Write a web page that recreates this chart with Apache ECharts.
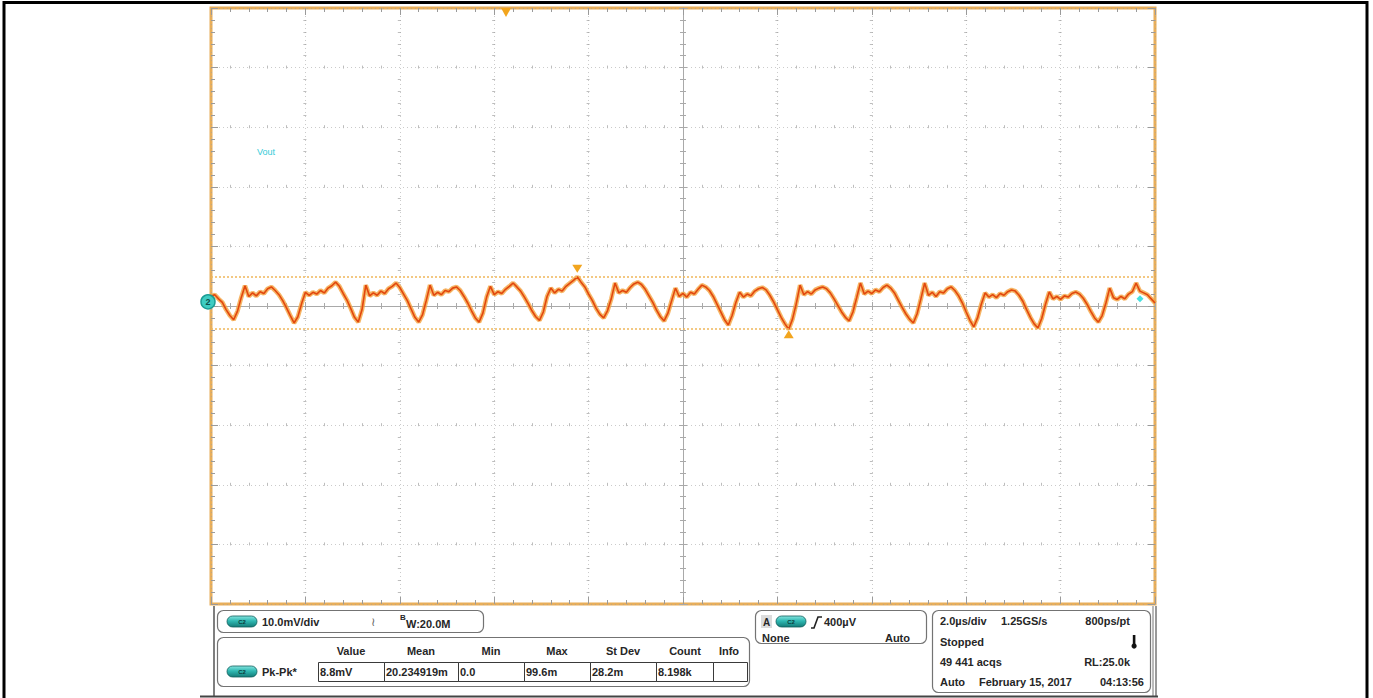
<!DOCTYPE html>
<html>
<head>
<meta charset="utf-8">
<title>Vout ripple</title>
<script src="https://cdn.jsdelivr.net/npm/echarts@6/dist/echarts.min.js"></script>
<style>
  html, body { margin: 0; padding: 0; background: #ffffff; }
  #chart { width: 1373px; height: 698px; }
</style>
</head>
<body>
<div id="chart"></div>
<script>
// ---- Acquisition: 2.0 µs/div over 10 divisions, 10 mV/div over 10 divisions ----
const timeRangeUs = [-10, 10];
const timeDivUs = 2;
const voltRangeMv = [-50, 50];
const voltDivMv = 10;

// Output ripple trace, one value (mV) every 0.08 µs starting at -10 µs
const startTimeUs = -10;
const sampleStepUs = 0.08;
const voutMv = [
  1.6, 1.9, 1.2, 0.6, -0.6, -1.6, -2.3, -0.9, 1.4, 3.4,
  1.6, 2.2, 1.7, 2.4, 2.1, 2.9, 3.2, 2.6, 1.9, 0.9,
  -0.3, -1.6, -2.85, -1.8, 0.4, 2.3, 1.8, 2.3, 2.0, 2.6,
  2.2, 3.0, 3.4, 4.0, 3.3, 2.1, 1.0, -0.4, -1.9, -2.7,
  -0.6, 3.5, 1.7, 2.2, 1.8, 2.5, 2.1, 2.9, 3.3, 3.85,
  3.1, 2.0, 0.9, -0.5, -1.9, -2.7, -1.5, 0.9, 3.5, 1.8,
  2.3, 1.9, 2.6, 2.4, 3.0, 3.2, 2.6, 1.6, 0.5, -0.8,
  -2.0, -2.7, -1.2, 1.5, 3.3, 1.9, 2.4, 2.1, 2.8, 3.3,
  3.85, 3.2, 2.5, 1.5, 0.4, -0.8, -1.8, -2.4, -1.0, 1.6,
  3.0, 2.2, 2.8, 2.5, 3.3, 3.8, 4.3, 4.9, 4.0, 3.2,
  2.0, 0.9, -0.4, -1.4, -2.0, -0.8, 1.2, 3.85, 2.2, 2.6,
  2.3, 3.1, 3.7, 4.0, 3.6, 2.8, 1.7, 0.6, -0.7, -1.8,
  -2.5, -1.2, 0.9, 3.0, 1.6, 2.1, 1.5, 2.3, 2.0, 2.8,
  3.5, 3.2, 2.6, 1.6, 0.3, -1.0, -2.3, -3.2, -1.6, 0.6,
  2.3, 1.5, 2.0, 1.7, 2.5, 2.9, 3.1, 2.7, 1.8, 0.7,
  -0.6, -1.9, -3.0, -3.9, -2.2, 0.4, 3.5, 1.9, 2.4, 2.0,
  2.7, 3.0, 3.2, 2.9, 2.2, 1.2, 0.1, -1.0, -1.9, -2.5,
  -1.0, 1.4, 3.85, 2.0, 2.5, 2.1, 2.7, 2.4, 3.1, 3.5,
  3.0, 2.2, 1.0, -0.2, -1.3, -2.2, -2.85, -1.3, 1.2, 3.85,
  1.8, 2.3, 1.6, 2.4, 2.2, 2.9, 3.2, 2.6, 1.7, 0.5,
  -1.0, -2.4, -3.5, -2.0, 0.3, 2.2, 1.5, 1.9, 1.4, 2.1,
  1.8, 2.4, 2.7, 2.5, 1.8, 0.8, -0.6, -1.9, -3.0, -3.7,
  -2.1, 0.3, 2.35, 1.2, 1.6, 1.1, 1.7, 1.5, 2.1, 2.35,
  2.0, 1.3, 0.3, -0.9, -2.0, -2.7, -1.6, 0.5, 3.0, 1.4,
  1.1, 1.6, 1.2, 2.0, 2.4, 3.85, 2.5, 2.2, 1.9, 1.2,
  0.5
];

// Indicators on the graticule
const triggerTimeUs = -3.75;   // horizontal trigger position
const channelRefMv = 0.7;      // channel 2 reference level
const traceEndMv = 1.2;        // right-edge level marker
const channelName = 'Vout';

// Readout panel texts
const verticalScale = '10.0mV/div';
const bandwidthLimit = ['B', 'W:20.0M'];
const measureHeaders = ['Value', 'Mean', 'Min', 'Max', 'St Dev', 'Count', 'Info'];
const measureName = 'Pk-Pk*';
const measureValues = ['8.8mV', '20.234919m', '0.0', '99.6m', '28.2m', '8.198k', ''];
const triggerReadout = ['A', '400µV', 'None', 'Auto'];
const timebaseReadout = [
  ['2.0µs/div', '1.25GS/s', '800ps/pt'],
  ['Stopped'],
  ['49 441 acqs', 'RL:25.0k'],
  ['Auto', 'February 15, 2017', '04:13:56']
];

const traceData = voutMv.map((v, i) => [startTimeUs + i * sampleStepUs, v]);

// ---- styling ----
const FRAME_ORANGE = '#E8AE5A';
const TICK_GREY = '#9a9a9a';
const GRID_GREY = 'rgba(160,160,160,0.55)';
const CROSS_GREY = '#bdbdbd';
const CENTER_GREY = '#a9a9a9';
const FONT = '"Liberation Sans", Arial, sans-serif';

const edgeAxisCommon = {
  type: 'value',
  axisLine: { show: false, onZero: false },
  axisLabel: { show: false },
  axisTick: { show: true, inside: true, length: 7, lineStyle: { color: TICK_GREY, width: 1 } },
  minorTick: { show: true, splitNumber: 5, length: 4, lineStyle: { color: TICK_GREY, width: 1 } },
  splitLine: { show: false }
};

function xEdge(position, withGrid) {
  return Object.assign({}, edgeAxisCommon, {
    position, min: timeRangeUs[0], max: timeRangeUs[1], interval: timeDivUs,
    splitLine: { show: withGrid, lineStyle: { color: GRID_GREY, width: 1, type: [1, 3] } },
    minorSplitLine: { show: withGrid, lineStyle: { color: CROSS_GREY, width: 1, type: [3, 56.6], dashOffset: 1.5 } }
  });
}
function yEdge(position, withGrid) {
  return Object.assign({}, edgeAxisCommon, {
    position, min: voltRangeMv[0], max: voltRangeMv[1], interval: voltDivMv,
    splitLine: { show: withGrid, lineStyle: { color: GRID_GREY, width: 1, type: [1, 3] } },
    minorSplitLine: { show: withGrid, lineStyle: { color: CROSS_GREY, width: 1, type: [3, 91.4], dashOffset: 1.5 } }
  });
}
// centre cross-hair axes: solid line with ticks on both sides
function xCentre(inside) {
  return {
    type: 'value', position: 'bottom', min: timeRangeUs[0], max: timeRangeUs[1], interval: timeDivUs,
    axisLine: { show: true, onZero: true, onZeroAxisIndex: 0, lineStyle: { color: CENTER_GREY, width: 1 } },
    axisLabel: { show: false },
    axisTick: { show: true, inside, length: 4, lineStyle: { color: CENTER_GREY } },
    minorTick: { show: true, splitNumber: 5, length: 3, lineStyle: { color: CENTER_GREY } },
    splitLine: { show: false }
  };
}
function yCentre(inside) {
  return {
    type: 'value', position: 'left', min: voltRangeMv[0], max: voltRangeMv[1], interval: voltDivMv,
    axisLine: { show: true, onZero: true, onZeroAxisIndex: 0, lineStyle: { color: CENTER_GREY, width: 1 } },
    axisLabel: { show: false },
    axisTick: { show: true, inside, length: 4, lineStyle: { color: CENTER_GREY } },
    minorTick: { show: true, splitNumber: 5, length: 3, lineStyle: { color: CENTER_GREY } },
    splitLine: { show: false }
  };
}

// ---- readout panel graphics ----
function text(x, y, s, o) {
  o = o || {};
  return {
    type: 'text', x, y, z: 100, silent: true,
    style: {
      text: s, fill: o.color || '#262626', fontFamily: FONT,
      fontSize: o.size || 11, fontWeight: o.weight || 'bold',
      align: o.align || 'left', verticalAlign: 'middle'
    }
  };
}
function box(x, y, w, h) {
  return { type: 'rect', z: 99, silent: true, shape: { x, y, width: w, height: h, r: 6 },
    style: { fill: 'none', stroke: '#737373', lineWidth: 1.2 } };
}
function pill(x, y) {
  return [
    { type: 'rect', z: 100, silent: true, shape: { x, y, width: 30, height: 11, r: 5.5 },
      style: {
        fill: new echarts.graphic.LinearGradient(0, 0, 0, 1, [
          { offset: 0, color: '#86e4df' }, { offset: 0.45, color: '#2fb8b2' }, { offset: 1, color: '#137b77' }
        ]),
        stroke: '#0f5d5a', lineWidth: 0.8
      } },
    text(x + 15, y + 5.8, 'C2', { size: 6, color: '#0b3b3a', align: 'center' })
  ];
}

const graphics = [];
// outer frame
graphics.push({ type: 'rect', z: 100, silent: true, shape: { x: 4, y: 2.5, width: 1363, height: 720 },
  style: { fill: 'none', stroke: '#000', lineWidth: 3 } });
// channel label
graphics.push(text(257, 152, channelName, { size: 9, weight: 'normal', color: '#35cbd8' }));
// panel frame
graphics.push({ type: 'line', z: 99, silent: true, shape: { x1: 214, y1: 606, x2: 214, y2: 696 }, style: { stroke: '#555', lineWidth: 1.5 } });
graphics.push({ type: 'line', z: 99, silent: true, shape: { x1: 1153, y1: 606, x2: 1153, y2: 696 }, style: { stroke: '#777', lineWidth: 1 } });
graphics.push({ type: 'line', z: 99, silent: true, shape: { x1: 1156, y1: 606, x2: 1156, y2: 696 }, style: { stroke: '#555', lineWidth: 1.2 } });
graphics.push({ type: 'line', z: 99, silent: true, shape: { x1: 200, y1: 696.5, x2: 1158, y2: 696.5 }, style: { stroke: '#444', lineWidth: 2 } });

// vertical scale box
graphics.push(box(217.5, 610.5, 266, 22));
graphics.push(...pill(227, 616));
graphics.push(text(262, 622, verticalScale));
graphics.push(text(373, 622, '≀', { size: 12, weight: 'normal', color: '#666', align: 'center' }));
graphics.push(text(400, 617.5, bandwidthLimit[0], { size: 8 }));
graphics.push(text(406, 623.5, bandwidthLimit[1]));

// measurement box
graphics.push(box(217.5, 637.5, 532, 49));
const headerCenters = [351, 421, 491, 557, 623, 685, 729];
measureHeaders.forEach((h, i) => graphics.push(text(headerCenters[i], 651, h, { align: 'center' })));
graphics.push(...pill(227, 666));
graphics.push(text(262, 672, measureName));
const cellEdges = [318, 384, 458, 524, 590, 656, 713, 747];
for (let i = 0; i < measureValues.length; i++) {
  graphics.push({ type: 'rect', z: 99, silent: true,
    shape: { x: cellEdges[i] + 0.5, y: 662.5, width: cellEdges[i + 1] - cellEdges[i], height: 19 },
    style: { fill: 'none', stroke: '#3a3a3a', lineWidth: 1 } });
  graphics.push(text(cellEdges[i] + 2, 672, measureValues[i]));
}

// trigger box
graphics.push(box(755.5, 610.5, 171, 33));
graphics.push({ type: 'rect', z: 99, silent: true, shape: { x: 761, y: 615, width: 11, height: 13 }, style: { fill: '#dcdcdc' } });
graphics.push(text(766.5, 622, triggerReadout[0], { align: 'center', size: 10 }));
graphics.push(...pill(776, 616));
graphics.push({ type: 'polyline', z: 100, silent: true,
  shape: { points: [[811, 628], [814, 628], [818, 617], [822, 617]] },
  style: { fill: null, stroke: '#222', lineWidth: 1.6 } });
graphics.push(text(824, 622, triggerReadout[1]));
graphics.push(text(762, 638, triggerReadout[2]));
graphics.push(text(910, 638, triggerReadout[3], { align: 'right' }));

// timebase box
graphics.push(box(932.5, 610.5, 218, 82));
graphics.push(text(940, 621, timebaseReadout[0][0]));
graphics.push(text(1001, 621, timebaseReadout[0][1]));
graphics.push(text(1130, 621, timebaseReadout[0][2], { align: 'right' }));
graphics.push(text(940, 642, timebaseReadout[1][0]));
graphics.push({ type: 'rect', z: 100, silent: true, shape: { x: 1132.8, y: 635, width: 2.6, height: 10 }, style: { fill: '#111' } });
graphics.push({ type: 'circle', z: 100, silent: true, shape: { cx: 1134.1, cy: 646, r: 2.6 }, style: { fill: '#111' } });
graphics.push(text(940, 662, timebaseReadout[2][0]));
graphics.push(text(1130, 662, timebaseReadout[2][1], { align: 'right' }));
graphics.push(text(940, 682, timebaseReadout[3][0]));
graphics.push(text(979, 682, timebaseReadout[3][1]));
graphics.push(text(1144, 682, timebaseReadout[3][2], { align: 'right' }));

const chart = echarts.init(document.getElementById('chart'), null, { renderer: 'svg' });
chart.setOption({
  animation: false,
  backgroundColor: '#ffffff',
  grid: {
    left: 211, top: 8, width: 944, height: 596,
    show: true, borderColor: FRAME_ORANGE, borderWidth: 3, backgroundColor: 'transparent'
  },
  xAxis: [xEdge('bottom', true), xEdge('top', false), xCentre(true), xCentre(false)],
  yAxis: [yEdge('left', true), yEdge('right', false), yCentre(true), yCentre(false)],
  series: [
    {
      // soft outer glow of the persistence trace
      type: 'line', data: traceData, xAxisIndex: 0, yAxisIndex: 0,
      symbol: 'none', silent: true, z: 3,
      lineStyle: { color: 'rgba(244,162,62,0.8)', width: 4.5 }
    },
    {
      type: 'line', data: traceData, xAxisIndex: 0, yAxisIndex: 0,
      symbol: 'none', silent: true, z: 4,
      lineStyle: { color: '#E2470E', width: 1.6 },
      markLine: {
        silent: true, symbol: 'none', label: { show: false },
        lineStyle: { color: '#EFB75A', width: 1.6, type: [2, 2] },
        data: [{ type: 'max', valueDim: 'y' }, { type: 'min', valueDim: 'y' }]
      },
      markPoint: {
        silent: true, label: { show: false },
        data: [
          { type: 'max', valueDim: 'y', symbol: 'triangle', symbolRotate: 180, symbolSize: [10, 8],
            symbolOffset: [0, -8], itemStyle: { color: '#F2A51E' } },
          { type: 'min', valueDim: 'y', symbol: 'triangle', symbolSize: [10, 8],
            symbolOffset: [0, 5], itemStyle: { color: '#F2A51E' } },
          { coord: [triggerTimeUs, voltRangeMv[1]], symbol: 'triangle', symbolRotate: 180, symbolSize: [10, 9],
            symbolOffset: [0, 4.5], itemStyle: { color: '#F2A51E' } },
          { coord: [timeRangeUs[0], channelRefMv], symbol: 'circle', symbolSize: 14, symbolOffset: [-3, 0],
            itemStyle: { color: '#3FCCC2', borderColor: '#1a9c94', borderWidth: 1.5 },
            label: { show: true, position: 'inside', formatter: '2', fontSize: 9, fontWeight: 'bold', color: '#0d4f4b', fontFamily: FONT } },
          { coord: [timeRangeUs[1], traceEndMv], symbol: 'diamond', symbolSize: 7, symbolOffset: [-15, 0],
            itemStyle: { color: '#46e0e0' } }
        ]
      }
    }
  ],
  graphic: graphics
});
</script>
</body>
</html>
